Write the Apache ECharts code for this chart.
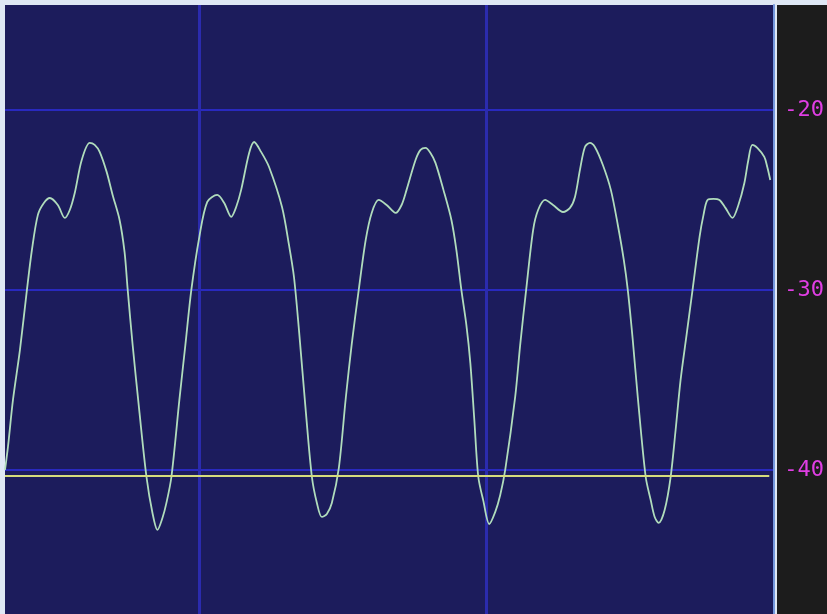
<!DOCTYPE html>
<html>
<head>
<meta charset="utf-8">
<script src="https://cdn.jsdelivr.net/npm/echarts@6/dist/echarts.min.js"></script>
<style>html,body{margin:0;padding:0;background:#dfe8f5;}#c{width:827px;height:614px;}</style>
</head>
<body>
<div id="c"></div>
<script>
// sample positions (x) and level values (y)
var samples = [0,3,8,15,22,27,33,39,45,53,60,65,70,77,85,90,95,102,108,115,120,123,128,135,142,148,153,158,162,167,
  175,181,187,195,203,213,220,227,232,237,245,250,257,265,278,285,290,295,302,308,313,318,323,328,335,
  342,348,355,362,368,375,383,392,398,403,412,417,422,427,432,440,448,453,458,463,467,471,475,480,486,
  492,497,502,512,517,523,530,535,542,550,560,567,572,577,582,587,592,600,608,615,621,625,630,635,643,648,652,656,
  662,668,673,678,684,690,697,701,705,711,717,723,730,736,742,746,750,755,762,765,768];
var levels = [-40.0,-38.7,-36.11,-33.33,-30.0,-27.78,-25.83,-25.17,-24.89,-25.28,-26.0,-25.56,-24.61,-22.78,-21.83,-21.94,-22.33,-23.44,-24.72,-26.11,-27.9,-29.9,-33.0,-36.83,-40.39,-42.39,-43.33,-42.67,-41.83,-40.39,
  -36.11,-33.06,-30.0,-27.06,-25.11,-24.72,-25.17,-25.94,-25.39,-24.44,-22.39,-21.78,-22.33,-23.17,-25.39,-27.5,-29.28,-32.22,-36.83,-40.39,-41.83,-42.61,-42.44,-41.83,-39.9,
  -36.0,-33.0,-30.0,-27.22,-25.72,-25.0,-25.28,-25.72,-25.28,-24.44,-22.78,-22.22,-22.11,-22.39,-22.94,-24.44,-26.11,-27.78,-30.0,-31.94,-34.06,-37.22,-40.39,-41.7,-43.0,
  -42.33,-41.39,-40.0,-35.94,-33.06,-30.0,-26.67,-25.56,-25.0,-25.28,-25.67,-25.44,-24.83,-23.33,-22.06,-21.83,-22.06,-23.06,-24.44,-26.39,-28.33,-30.0,-32.78,-35.94,-40.39,-41.67,-42.61,-42.94,
  -42.22,-40.39,-37.78,-35.0,-32.5,-30.0,-27.06,-25.83,-25.0,-24.94,-25.0,-25.44,-26.0,-25.28,-24.06,-22.78,-21.94,-22.11,-22.61,-23.17,-23.89];
var yTicks = [-40, -30, -20];
var xTicks = [195, 483];
var thresholdLevel = -40.33;

var points = samples.map(function (s, i) { return [s, levels[i]]; });

var chart = echarts.init(document.getElementById('c'), null, {renderer: 'canvas'});
chart.setOption({
  backgroundColor: '#dfe8f5',
  animation: false,
  graphic: [
    {type: 'rect', shape: {x: 777, y: 5, width: 50, height: 609}, style: {fill: '#1c1c1c'}, z: -10, silent: true}
  ],
  grid: {left: 5, right: 51, top: 5, bottom: 0, show: true, backgroundColor: '#1c1c5c', borderWidth: 0},
  xAxis: {
    type: 'value', min: 0, max: 771,
    axisLine: {show: false},
    axisTick: {show: false, customValues: xTicks},
    axisLabel: {show: false, customValues: xTicks},
    splitLine: {show: true, lineStyle: {color: '#2b2bae', width: 3}}
  },
  yAxis: {
    type: 'value', position: 'right', min: -48, max: -14.17,
    axisLine: {show: true, onZero: false, lineStyle: {color: '#7498de', width: 2}},
    axisTick: {show: false, customValues: yTicks},
    axisLabel: {show: true, customValues: yTicks, color: '#e03ee4', fontSize: 22, fontFamily: 'DejaVu Sans Mono', margin: 11},
    splitLine: {show: true, lineStyle: {color: '#2929bf', width: 2}}
  },
  series: [{
    type: 'line',
    data: points,
    smooth: 0.3,
    showSymbol: false,
    lineStyle: {color: '#b0dcbc', width: 1.8},
    markLine: {
      silent: true, symbol: 'none', label: {show: false},
      lineStyle: {color: '#d6dc7c', width: 2, type: 'solid'},
      data: [[{coord: [0, thresholdLevel]}, {coord: [767, thresholdLevel]}]]
    }
  }]
});
</script>
</body>
</html>
